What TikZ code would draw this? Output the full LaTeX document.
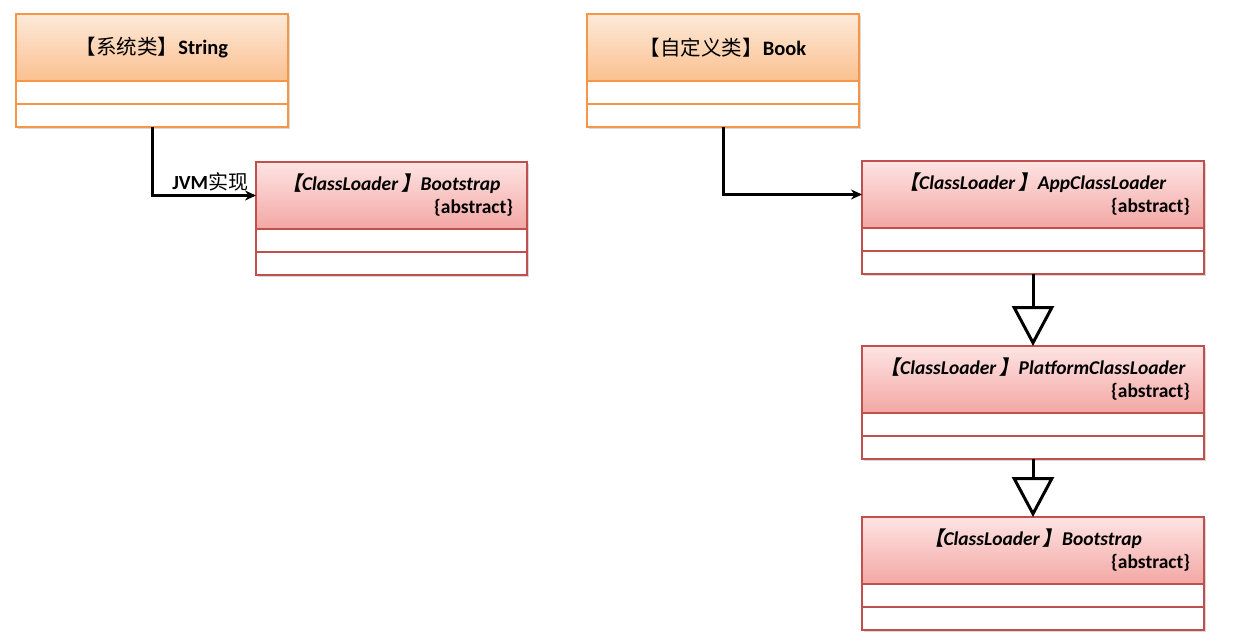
\documentclass[tikz,border=0pt]{standalone}
\usepackage{fontspec}
\setmainfont{Carlito}
\newfontfamily\cjk{Noto Sans CJK SC}
\newfontfamily\cjkit[FakeSlant=0.2]{Noto Sans CJK SC}
\usepackage{tikz}
\usetikzlibrary{arrows.meta, positioning, shadows}

\definecolor{orgline}{HTML}{F79646}
\definecolor{orgtop}{HTML}{FDEADA}
\definecolor{orgbot}{HTML}{FBC08F}
\definecolor{redline}{HTML}{C0504D}
\definecolor{redtop}{HTML}{FDE4E3}
\definecolor{redbot}{HTML}{F3A7A4}

% title of a class loader box: name line and {abstract} line
\newcommand{\ldtitle}[1]{\makebox[\linewidth][c]{{\cjkit 【}ClassLoader\hspace{0.15em}{\cjkit 】}#1}\\
  \makebox[\linewidth][r]{\upshape\{abstract\}}}

\begin{document}
\begin{tikzpicture}[x=1pt, y=-1pt, node distance=0pt]

    % Define style for boxes
    \tikzset{
      box/.style={rectangle, line width=1.3pt, outer sep=0pt, inner sep=0pt,
        drop shadow={shadow xshift=1.5pt, shadow yshift=-1.5pt, opacity=0.3}},
      syshead/.style={box, draw=orgline, top color=orgtop, bottom color=orgbot,
        minimum width=272pt, minimum height=67pt, font=\fontsize{20.5}{23}\selectfont\bfseries},
      sysrow/.style={box, draw=orgline, fill=white, minimum width=272pt, minimum height=23pt},
      ldhead/.style={box, draw=redline, top color=redtop, bottom color=redbot,
        minimum height=67pt, align=center,
        font=\fontsize{19.5}{23}\selectfont\bfseries\itshape},
      ldrow/.style={box, draw=redline, fill=white, minimum height=23pt},
      conn/.style={line width=3pt, -{Stealth[length=11pt, width=10pt]}},
      inherit/.style={line width=3pt, -{Triangle[open, length=40pt, width=42pt]}}
    }

    \useasboundingbox (0,0) rectangle (1245,643);

    % Nodes
    \node (string) [syshead, anchor=north west] at (16,14) {{\cjk\mdseries 【系统类】}String};
    \node (string1) [sysrow, below=of string] {};
    \node (string2) [sysrow, below=of string1] {};

    \node (book) [syshead, anchor=north west] at (587,14) {{\cjk\mdseries 【自定义类】}Book};
    \node (book1) [sysrow, below=of book] {};
    \node (book2) [sysrow, below=of book1] {};

    \node (bootjvm) [ldhead, minimum width=271pt, text width=243pt, anchor=north west] at (256,162) {\ldtitle{Bootstrap}};
    \node (bootjvm1) [ldrow, minimum width=271pt, below=of bootjvm] {};
    \node (bootjvm2) [ldrow, minimum width=271pt, below=of bootjvm1] {};

    \node (app) [ldhead, minimum width=342pt, text width=314pt, anchor=north west] at (862,161) {\ldtitle{AppClassLoader}};
    \node (app1) [ldrow, minimum width=342pt, below=of app] {};
    \node (app2) [ldrow, minimum width=342pt, below=of app1] {};

    \node (platform) [ldhead, minimum width=342pt, text width=314pt, anchor=north west] at (862,346) {\ldtitle{PlatformClassLoader}};
    \node (platform1) [ldrow, minimum width=342pt, below=of platform] {};
    \node (platform2) [ldrow, minimum width=342pt, below=of platform1] {};

    \node (boot) [ldhead, minimum width=342pt, text width=314pt, anchor=north west] at (862,517) {\ldtitle{Bootstrap}};
    \node (boot1) [ldrow, minimum width=342pt, below=of boot] {};
    \node (boot2) [ldrow, minimum width=342pt, below=of boot1] {};

    % Lines
    \draw[conn] (string2.south) |- node[pos=0.78, above, font=\fontsize{20}{22}\selectfont\bfseries] {JVM{\cjk\mdseries 实现}} (bootjvm.west);
    \draw[conn] (book2.south) |- (app.west);

    \draw[inherit] (app2.south) -- (platform.north);
    \draw[inherit] (platform2.south) -- (boot.north);

\end{tikzpicture}
\end{document}
